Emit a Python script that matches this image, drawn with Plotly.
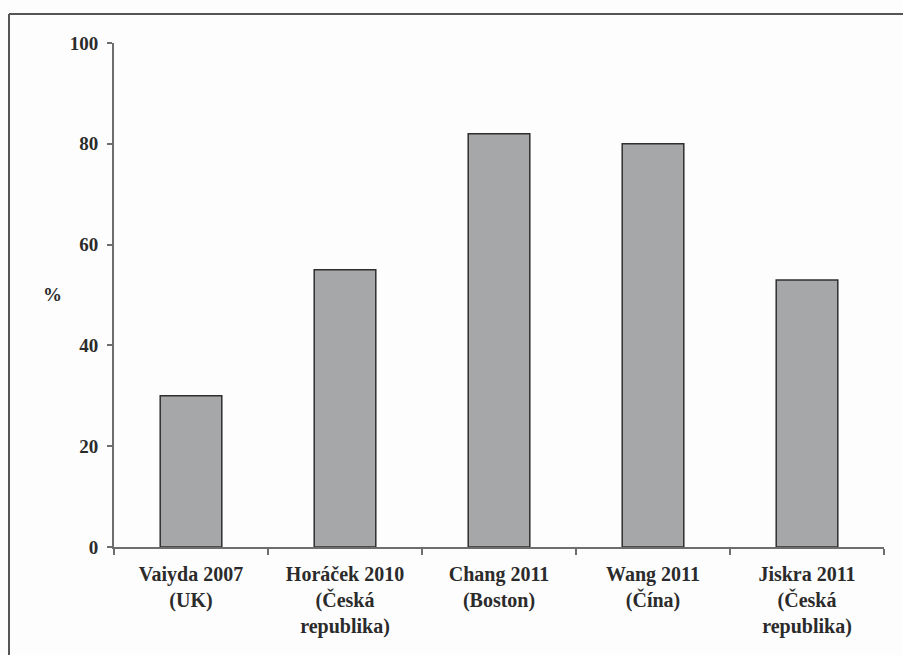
import plotly.graph_objects as go

categories = [
    "Vaiyda 2007<br>(UK)",
    "Horáček 2010<br>(Česká<br>republika)",
    "Chang 2011<br>(Boston)",
    "Wang 2011<br>(Čína)",
    "Jiskra 2011<br>(Česká<br>republika)",
]
values = [30, 55, 82, 80, 53]
y_ticks = [0, 20, 40, 60, 80, 100]

W, H = 903, 655
L, R, T, B = 114, 19, 43, 108
pw, ph = W - L - R, H - T - B

font = dict(family="Liberation Serif, Times New Roman, serif", size=19, color="#2b2b2b")

fig = go.Figure(go.Bar(
    x=categories, y=values, width=0.4,
    marker=dict(color="#a6a7a9", line=dict(color="#2f2f2f", width=1.5)),
))

fig.update_layout(
    width=W, height=H,
    margin=dict(l=L, r=R, t=T, b=B, pad=0),
    paper_bgcolor="#fdfdfd", plot_bgcolor="#fdfdfd",
    font=font, showlegend=False, bargap=0.6,
)
fig.update_xaxes(
    showline=True, linecolor="#6e6e6e", linewidth=2,
    ticks="outside", tickson="boundaries", ticklen=6, tickcolor="#6e6e6e", tickwidth=2,
    showgrid=False, tickfont=dict(family=font["family"], size=20, color="#2b2b2b", weight="bold"),
    ticklabelstandoff=8,
)
fig.update_yaxes(
    range=[0, 100], tickvals=y_ticks, showline=True, linecolor="#6e6e6e", linewidth=2,
    ticks="outside", ticklen=5, tickcolor="#6e6e6e", tickwidth=2, showgrid=False, zeroline=False,
    tickfont=dict(family=font["family"], size=19, color="#2b2b2b", weight="bold"),
    ticklabelstandoff=5,
)

fig.add_annotation(
    text="%", xref="paper", yref="paper",
    x=(52 - L) / pw, y=(547 - 294) / ph, showarrow=False,
    xanchor="center", yanchor="middle",
    font=dict(family=font["family"], size=19, color="#2b2b2b", weight="bold"),
)

# outer frame (left and top edges visible)
fx0 = (9 - L) / pw
fy1 = (547 - 14) / ph
fx1 = (W + 5 - L) / pw
fy0 = (547 - H - 5) / ph
fig.add_shape(type="line", xref="paper", yref="paper", x0=fx0, x1=fx0, y0=fy0, y1=fy1,
              line=dict(color="#555555", width=2))
fig.add_shape(type="line", xref="paper", yref="paper", x0=fx0, x1=fx1, y0=fy1, y1=fy1,
              line=dict(color="#555555", width=2))

fig.write_html("out.html")
